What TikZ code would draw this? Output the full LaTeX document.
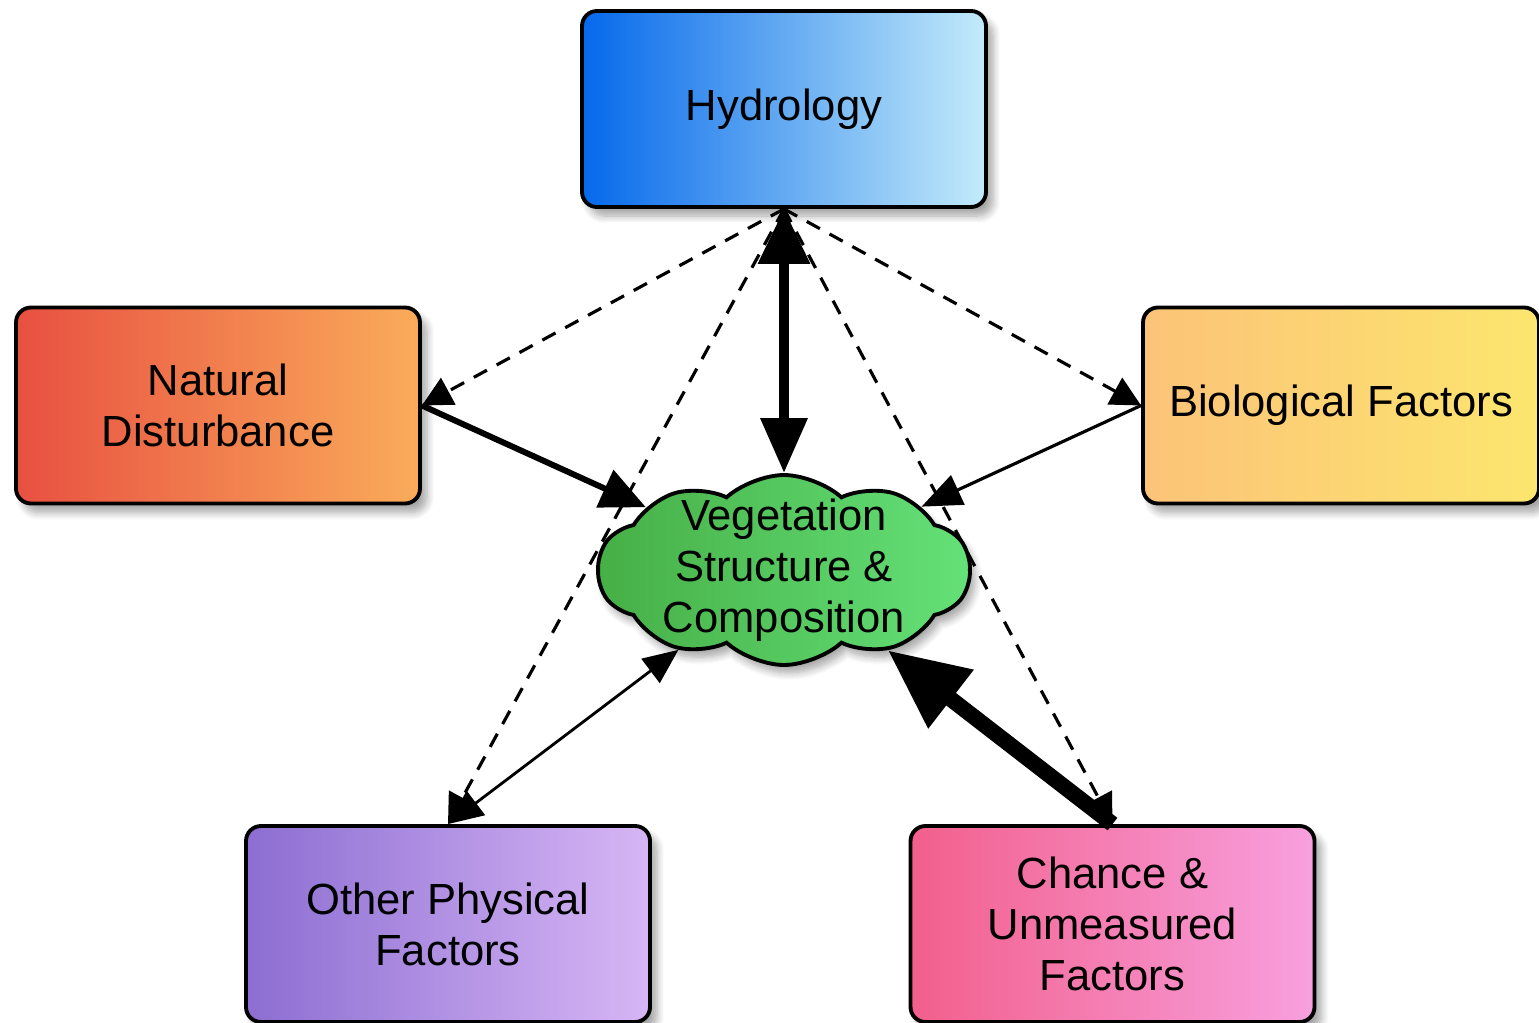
\documentclass[tikz,border=0pt]{standalone}
\usepackage{fontspec}
\setmainfont{Liberation Sans}
\usetikzlibrary{arrows.meta,shapes.symbols,shadows.blur}

\definecolor{hydL}{RGB}{5,105,235}
\definecolor{hydR}{RGB}{195,235,250}
\definecolor{natL}{RGB}{232,80,65}
\definecolor{natR}{RGB}{250,172,90}
\definecolor{bioL}{RGB}{252,195,120}
\definecolor{bioR}{RGB}{252,230,110}
\definecolor{othL}{RGB}{140,110,210}
\definecolor{othR}{RGB}{215,182,245}
\definecolor{chaL}{RGB}{242,95,140}
\definecolor{chaR}{RGB}{248,160,222}
\definecolor{vegL}{RGB}{70,175,70}
\definecolor{vegR}{RGB}{100,225,120}

\begin{document}
\begin{tikzpicture}[
  factor/.style={draw=black, line width=1.1pt, rounded corners=0.15cm,
    minimum width=4.04cm, minimum height=1.96cm, align=center,
    font=\fontsize{12.4}{14.5}\selectfont,
    blur shadow={shadow xshift=0.07cm, shadow yshift=-0.09cm, shadow blur steps=8, shadow opacity=35}},
  dashlink/.style={-{Triangle[length=0.3cm,width=0.3cm]}, line width=0.9pt,
    dash pattern=on 0.15cm off 0.11cm},
  link/.style={line width=#1}
]

\useasboundingbox (0,0) rectangle (15.39,-10.22);
\clip (0,0) rectangle (15.39,-10.22);

\node[factor, left color=hydL, right color=hydR] (hyd) at (7.84,-1.09) {Hydrology};
\node[factor, left color=natL, right color=natR] (nat) at (2.18,-4.055) {Natural\\Disturbance};
\node[factor, minimum width=3.96cm, left color=bioL, right color=bioR] (bio) at (13.41,-4.055) {Biological Factors};
\node[factor, left color=othL, right color=othR] (oth) at (4.48,-9.24) {Other Physical\\Factors};
\node[factor, left color=chaL, right color=chaR] (cha) at (11.125,-9.24) {Chance \&\\Unmeasured\\Factors};

\foreach \t in {nat.east, bio.west, oth.north, cha.north}
  \draw[dashlink] (hyd.south) -- (\t);

\node[cloud, cloud puffs=10, cloud puff arc=85, aspect=2, draw, line width=1.1pt,
  minimum width=3.72cm, minimum height=1.9cm, left color=vegL, right color=vegR,
  blur shadow={shadow xshift=0.05cm, shadow yshift=-0.08cm, shadow blur steps=8, shadow opacity=35}]
  (veg) at (7.84,-5.70) {};
\node[align=center, font=\fontsize{12.4}{14.5}\selectfont] (vegtxt) at (veg.center) {Vegetation\\Structure \&\\Composition};

\draw[link=2.8pt, {Triangle[length=0.55cm,width=0.5cm]}-{Triangle[length=0.55cm,width=0.45cm]}] (hyd.south) -- (veg);
\draw[link=1.7pt, -{Triangle[length=0.45cm,width=0.4cm]}] (nat.east) -- (veg);
\draw[link=0.9pt, -{Triangle[length=0.4cm,width=0.32cm]}] (bio.west) -- (veg);
\draw[link=0.8pt, {Triangle[length=0.35cm,width=0.3cm]}-{Triangle[length=0.35cm,width=0.3cm]}] (oth.north) -- (veg);
\draw[link=4.5pt, -{Triangle[length=0.8cm,width=0.7cm]}] (cha.north) -- (veg);

\end{tikzpicture}
\end{document}
